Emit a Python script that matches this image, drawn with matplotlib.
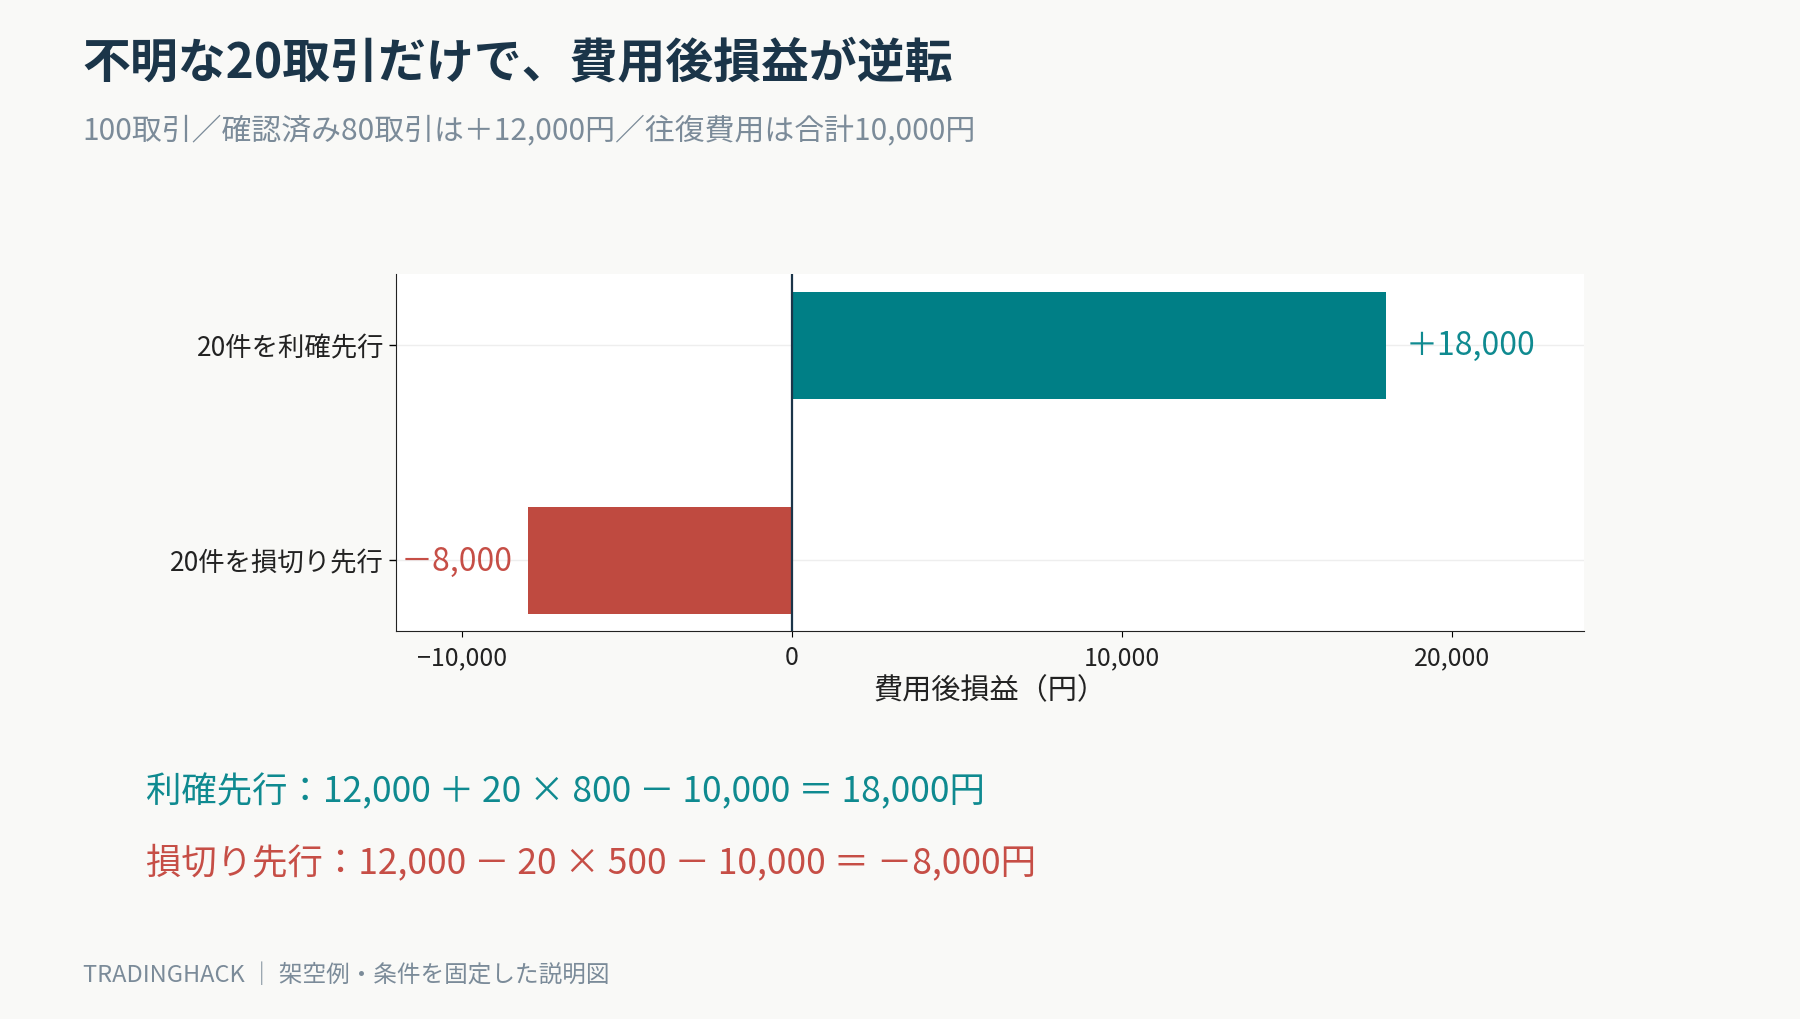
import matplotlib.pyplot as plt
import numpy as np

plt.rcParams['font.family'] = ['Noto Sans CJK JP', 'DejaVu Sans']
plt.rcParams['axes.unicode_minus'] = True

# data
categories = ['20件を損切り先行', '20件を利確先行']
values = [-8000, 18000]
bar_colors = ['#BF4A40', '#007F86']
label_colors = ['#C64E46', '#0F8A90']
value_labels = ['－8,000', '＋18,000']
xticks = [-10000, 0, 10000, 20000]
xtick_labels = ['−10,000', '0', '10,000', '20,000']

title = '不明な20取引だけで、費用後損益が逆転'
subtitle = '100取引／確認済み80取引は＋12,000円／往復費用は合計10,000円'
formula_win = '利確先行：12,000 ＋ 20 × 800 － 10,000 ＝ 18,000円'
formula_loss = '損切り先行：12,000 － 20 × 500 － 10,000 ＝ －8,000円'
footer = 'TRADINGHACK ｜ 架空例・条件を固定した説明図'

bg = '#F9F9F7'
navy = '#1B3549'
gray = '#7B8B99'

fig = plt.figure(figsize=(18, 10.2), dpi=100, facecolor=bg)
ax = fig.add_axes([0.22, 0.38, 0.66, 0.35])
ax.set_facecolor('white')

y = np.arange(len(categories))
ax.barh(y, values, height=0.5, color=bar_colors, zorder=2)
ax.axvline(0, color=navy, lw=1.6, zorder=3)

for yi, v, lab, c in zip(y, values, value_labels, label_colors):
    if v >= 0:
        ax.annotate(lab, (v, yi), xytext=(14, 0), textcoords='offset points',
                    ha='left', va='center', fontsize=23, color=c)
    else:
        ax.annotate(lab, (v, yi), xytext=(-11, 0), textcoords='offset points',
                    ha='right', va='center', fontsize=23, color=c)

ax.set_xlim(-12000, 24000)
ax.set_ylim(-0.33, 1.33)
ax.set_yticks(y)
ax.set_yticklabels(categories, fontsize=19, color='#222222')
ax.set_xticks(xticks)
ax.set_xticklabels(xtick_labels, fontsize=18, color='#222222')
ax.set_xlabel('費用後損益（円）', fontsize=21, color='#222222', labelpad=4)
ax.grid(axis='y', color='#EEEEEE', lw=1, zorder=0)
ax.tick_params(axis='x', length=4, width=0.8, pad=5)
ax.tick_params(axis='y', length=5, width=1)
for s in ['top', 'right']:
    ax.spines[s].set_visible(False)
ax.spines['left'].set_color('#222222')
ax.spines['bottom'].set_color('#222222')

fig.text(0.046, 0.938, title, fontsize=34.5, fontweight='bold', color=navy, va='center')
fig.text(0.046, 0.871, subtitle, fontsize=21.5, color=gray, va='center')
fig.text(0.081, 0.224, formula_win, fontsize=25.5, color=label_colors[1], va='center')
fig.text(0.081, 0.154, formula_loss, fontsize=25.5, color=label_colors[0], va='center')
fig.text(0.046, 0.044, footer, fontsize=17, color=gray, va='center')

fig.savefig('out.png', dpi=100, facecolor=bg)
